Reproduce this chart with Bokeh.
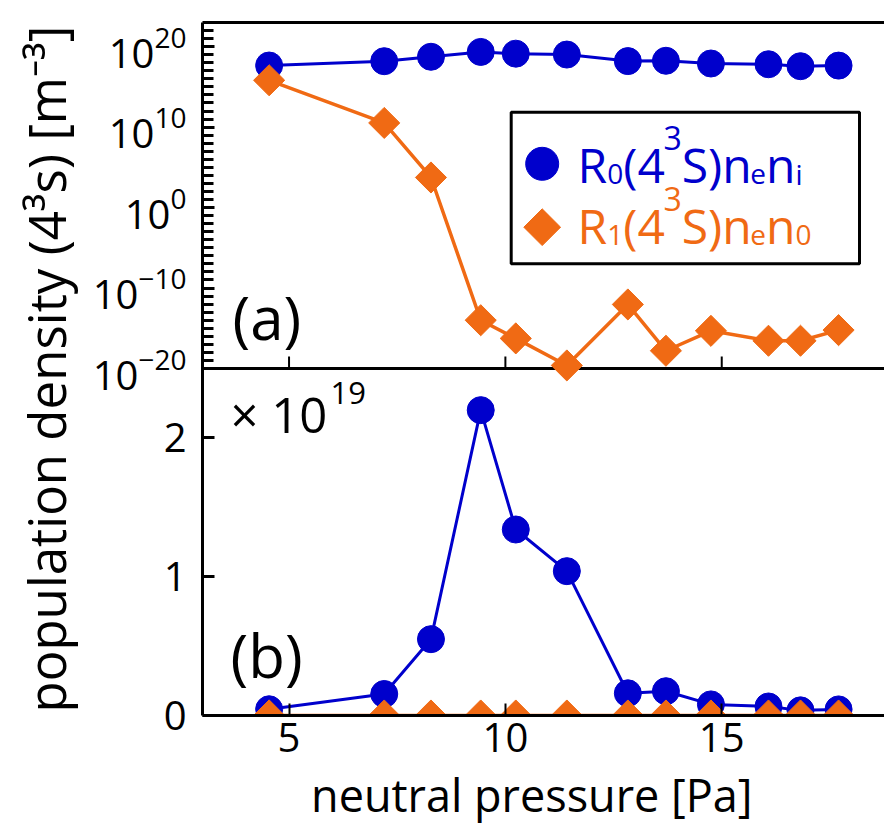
import numpy as np
from bokeh.plotting import figure
from bokeh.models import (FixedTicker, Label, BoxAnnotation, Range1d, LinearAxis,
                          LinearScale, Span, ColumnDataSource)
from bokeh.embed import file_html
from bokeh.resources import INLINE

# ---------------- data ----------------
pressure = [4.54, 7.20, 8.28, 9.43, 10.24, 11.42, 12.83, 13.71, 14.75, 16.08, 16.82, 17.70]
r0_density = [0.045e19, 0.155e19, 0.55e19, 2.20e19, 1.34e19, 1.04e19,
              0.16e19, 0.175e19, 0.08e19, 0.065e19, 0.037e19, 0.044e19]
r1_density = [6.6e15, 3.3e10, 5.5e3, 1.0e-14, 5.5e-17, 2.4e-20,
              9.1e-13, 1.6e-18, 4.8e-16, 2.8e-17, 2.8e-17, 5.9e-16]
x_ticks = [5, 10, 15]
log_major_ticks = [1e-20, 1e-10, 1e0, 1e10, 1e20]
log_minor_ticks = [10.0 ** k for k in range(-20, 23)]
lin_ticks = [0, 1, 2]
lin_labels = ["0", "1", "2"]
scale_factor = 1e19

BLUE = "#0000CC"
ORANGE = "#F06A14"
FONT = "Open Sans"

# ---------------- layout of the two stacked panels in one frame ----------------
TOP_PX, BOT_PX = 346, 347            # heights of panel (a) and panel (b)
LOG_TOP, LOG_SPLIT = 23.0, -20.0      # decades shown in panel (a)
DEC_PX = TOP_PX / (LOG_TOP - LOG_SPLIT)
LOG_BOTTOM = LOG_SPLIT - BOT_PX / DEC_PX
LIN_SPLIT = 2.5                       # top of panel (b)
LIN_TOP = LIN_SPLIT * (TOP_PX + BOT_PX) / BOT_PX

W, H = 884, 834
BORDER_LEFT, BORDER_TOP = 202, 22
FRAME_BOTTOM = BORDER_TOP + TOP_PX + BOT_PX
BORDER_BOTTOM = H - FRAME_BOTTOM
X_START, X_PX = 3.0, 43.27            # x-axis start and pixels per Pa
X_END = X_START + (W - BORDER_LEFT) / X_PX
BASELINE_SHIFT = 0.3                  # label anchor correction (fraction of font size)

def lin_on_log(v):
    """Position of a panel-(b) value on the shared left axis."""
    return 10 ** (LOG_BOTTOM + v / LIN_TOP * (LOG_TOP - LOG_BOTTOM))

# helpers that place annotations given page positions
def ax(px):
    return X_START + (px - BORDER_LEFT) / X_PX

def ay_top(py):
    return 10 ** (LOG_TOP - (py - BORDER_TOP) / DEC_PX)

def ay_bot(py):
    return (FRAME_BOTTOM - py) / BOT_PX * LIN_SPLIT

p = figure(width=W, height=H, x_range=Range1d(X_START, X_END),
           y_range=Range1d(10 ** LOG_BOTTOM, 10 ** LOG_TOP), y_axis_type="log",
           output_backend="svg", toolbar_location=None,
           min_border_left=BORDER_LEFT, min_border_top=BORDER_TOP,
           min_border_bottom=BORDER_BOTTOM, min_border_right=0)
p.extra_y_ranges = {"lin": Range1d(0, LIN_TOP)}
p.extra_y_scales = {"lin": LinearScale()}
p.outline_line_color = None
p.xgrid.visible = False
p.ygrid.visible = False
p.background_fill_color = "white"
p.border_fill_color = "white"

def text_at(px, py_base, text, size, color="black", panel="top"):
    py = py_base - BASELINE_SHIFT * size
    if panel == "top":
        lab = Label(x=ax(px), y=ay_top(py), text=text)
    else:
        lab = Label(x=ax(px), y=ay_bot(py), y_range_name="lin", text=text)
    lab.text_font = FONT
    lab.text_font_size = f"{size}px"
    lab.text_color = color
    lab.text_baseline = "alphabetic"
    p.add_layout(lab)

# top border
top_border = LinearAxis(ticker=FixedTicker(ticks=[]), major_tick_in=0, major_tick_out=0,
                        minor_tick_in=0, minor_tick_out=0, axis_line_width=3)
p.add_layout(top_border, "above")

# divider between panels with inward ticks of panel (a)
p.add_layout(Span(location=10 ** LOG_SPLIT, dimension="width", line_color="black",
                  line_width=3, level="underlay"))
tick_src = ColumnDataSource(dict(x=x_ticks, y0=[10 ** LOG_SPLIT] * len(x_ticks),
                                 y1=[10 ** (LOG_SPLIT + 12 / DEC_PX)] * len(x_ticks)))
p.segment(x0="x", y0="y0", x1="x", y1="y1", source=tick_src, line_color="black", line_width=2)

# ---------------- panel (a): log scale ----------------
p.line(pressure, r0_density, line_color=BLUE, line_width=3)
p.scatter(pressure, r0_density, marker="circle", size=27, fill_color=BLUE, line_color=BLUE)
p.line(pressure, r1_density, line_color=ORANGE, line_width=3.5)
p.scatter(pressure, r1_density, marker="square", angle=np.pi / 4, size=22,
          fill_color=ORANGE, line_color=ORANGE)

# ---------------- panel (b): linear scale ----------------
r0_scaled = np.array(r0_density) / scale_factor
r1_scaled = np.array(r1_density) / scale_factor
p.line(pressure, r0_scaled, line_color=BLUE, line_width=3, y_range_name="lin")
p.scatter(pressure, r0_scaled, marker="circle", size=27, fill_color=BLUE, line_color=BLUE,
          y_range_name="lin")
p.line(pressure, r1_scaled, line_color=ORANGE, line_width=3.5, y_range_name="lin")
p.scatter(pressure, r1_scaled, marker="square", angle=np.pi / 4, size=22,
          fill_color=ORANGE, line_color=ORANGE, y_range_name="lin")

# ---------------- left axis (shared) ----------------
lin_tick_pos = [lin_on_log(v) for v in lin_ticks]
ya = p.left[0]
ya.ticker = FixedTicker(ticks=log_major_ticks + lin_tick_pos, minor_ticks=log_minor_ticks)
ya.major_label_overrides = {pos: lab for pos, lab in zip(lin_tick_pos, lin_labels)}
ya.major_tick_in = 12
ya.major_tick_out = 0
ya.minor_tick_in = 11
ya.minor_tick_out = 0
ya.major_tick_line_width = 3
ya.minor_tick_line_width = 3
ya.axis_line_width = 3
ya.major_label_text_font = FONT
ya.major_label_text_font_size = "40px"
ya.major_label_text_color = "black"
ya.major_label_standoff = 16
ya.axis_label = "population density (4\u00b3s) [m\u207b\u00b3]"
ya.axis_label_text_font = FONT
ya.axis_label_text_font_size = "51px"
ya.axis_label_text_font_style = "normal"
ya.axis_label_text_color = "black"
ya.axis_label_standoff = 9

# ---------------- bottom axis ----------------
xa = p.below[0]
xa.ticker = FixedTicker(ticks=x_ticks, minor_ticks=[])
xa.major_tick_in = 12
xa.major_tick_out = 0
xa.major_tick_line_width = 2
xa.axis_line_width = 3
xa.major_label_text_font = FONT
xa.major_label_text_font_size = "40px"
xa.major_label_text_color = "black"
xa.major_label_standoff = 7
xa.axis_label = "neutral pressure [Pa]\u00a0\u00a0"
xa.axis_label_text_font = FONT
xa.axis_label_text_font_size = "45px"
xa.axis_label_text_font_style = "normal"
xa.axis_label_text_color = "black"
xa.axis_label_standoff = 9

# ---------------- annotations ----------------
text_at(232, 334, "(a)", 60)
text_at(230, 672, "(b)", 60, panel="bot")
text_at(230, 428, "\u00d7 10", 49, panel="bot")
text_at(330, 402, "19", 31, panel="bot")

# legend (inside panel a)
p.add_layout(BoxAnnotation(left=ax(510.7), right=ax(859), top=ay_top(111.7), bottom=ay_top(263.3),
                           fill_color="white", fill_alpha=1.0, line_color="black",
                           line_alpha=1.0, line_width=3, level="underlay"))
p.scatter([ax(541.7)], [ay_top(163.3)], marker="circle", size=33, fill_color=BLUE, line_color=BLUE)
p.scatter([ax(541.7)], [ay_top(226.7)], marker="square", angle=np.pi / 4, size=26,
          fill_color=ORANGE, line_color=ORANGE)

# legend labels built from pieces (normal / subscript / superscript)
ADV = {"R": 0.619, "(": 0.266, ")": 0.266, "S": 0.549, "n": 0.614, "e": 0.561, "i": 0.253,
       "0": 0.572, "1": 0.572, "3": 0.572, "4": 0.572}
MAIN, SUB, SUP = 48, 28, 32

def legend_text(px, base, pieces, color):
    x = px
    for txt, kind in pieces:
        size = {"n": MAIN, "sub": SUB, "sup": SUP}[kind]
        dy = {"n": 0, "sub": 4, "sup": -31}[kind]
        text_at(x, base + dy, txt, size, color)
        x += sum(ADV[c] for c in txt) * size

legend_text(577, 178, [("R", "n"), ("0", "sub"), ("(4", "n"), ("3", "sup"), ("S)n", "n"),
                       ("e", "sub"), ("n", "n"), ("i", "sub")], BLUE)
legend_text(577, 239, [("R", "n"), ("1", "sub"), ("(4", "n"), ("3", "sup"), ("S)n", "n"),
                       ("e", "sub"), ("n", "n"), ("0", "sub")], ORANGE)

open("out.html", "w").write(file_html(p, INLINE))
